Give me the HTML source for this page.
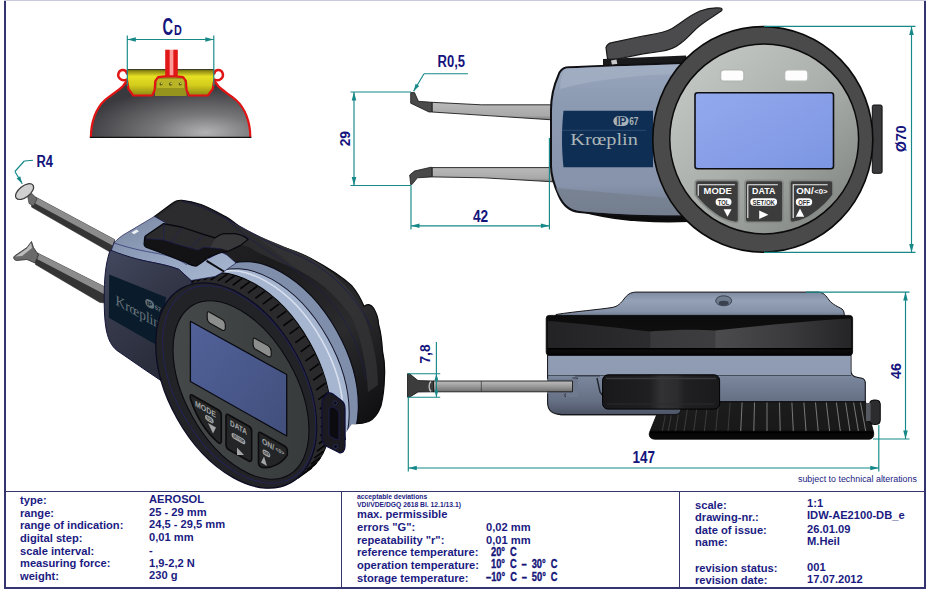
<!DOCTYPE html>
<html lang="en">
<head>
<meta charset="utf-8">
<title>Kroeplin IDW-AE2100-DB_e</title>
<style>
html,body{margin:0;padding:0;background:#fff;}
body{width:931px;height:594px;position:relative;overflow:hidden;font-family:"Liberation Sans",sans-serif;}
#sheet{position:absolute;left:0;top:0;width:931px;height:594px;background:#fff;}
.ln{position:absolute;background:#34346e;}
.t{position:absolute;white-space:nowrap;color:#1b1b82;font-weight:bold;font-size:11.15px;line-height:12px;letter-spacing:0;}
.s{position:absolute;white-space:nowrap;color:#1b1b82;font-weight:bold;font-size:6.75px;line-height:7px;}
.n{position:absolute;white-space:nowrap;color:#1b1b82;font-weight:normal;font-size:8.9px;line-height:10px;}
.iso{position:absolute;white-space:nowrap;color:#14147a;font-weight:bold;font-size:12px;line-height:12px;transform-origin:0 50%;transform:scaleX(.775);word-spacing:3px;-webkit-text-stroke:0.35px #14147a;}
svg{position:absolute;left:0;top:0;}
</style>
</head>
<body>
<div id="sheet">

<!-- DRAWINGS -->
<svg id="drw" width="931" height="594" viewBox="0 0 931 594">
<defs>
<radialGradient id="gDome" cx="0.72" cy="0.92" r="0.8" gradientUnits="objectBoundingBox">
<stop offset="0" stop-color="#b2b2b5"/><stop offset="0.4" stop-color="#77777a"/><stop offset="1" stop-color="#3a3a3e"/>
</radialGradient>
<linearGradient id="gCup" x1="0" y1="0" x2="0" y2="1">
<stop offset="0" stop-color="#7d7a10"/><stop offset="0.25" stop-color="#e6e024"/><stop offset="0.6" stop-color="#d2cc1c"/><stop offset="1" stop-color="#8c8814"/>
</linearGradient>
<linearGradient id="gStem" x1="0" y1="0" x2="1" y2="0">
<stop offset="0" stop-color="#e01818"/><stop offset="0.3" stop-color="#e01818"/><stop offset="0.42" stop-color="#ff9a9a"/><stop offset="0.58" stop-color="#ff9a9a"/><stop offset="0.7" stop-color="#e01818"/><stop offset="1" stop-color="#e01818"/>
</linearGradient>
<linearGradient id="gFace" x1="0.15" y1="0.1" x2="0.85" y2="0.9">
<stop offset="0" stop-color="#c2c6c2"/><stop offset="0.5" stop-color="#abafab"/><stop offset="1" stop-color="#858986"/>
</linearGradient>
<linearGradient id="gLcd" x1="0" y1="0" x2="1" y2="1">
<stop offset="0" stop-color="#93a9ee"/><stop offset="1" stop-color="#7d96e2"/>
</linearGradient>
<linearGradient id="gBody" x1="0" y1="0" x2="0" y2="1">
<stop offset="0" stop-color="#9aa7bd"/><stop offset="0.25" stop-color="#8c9ab2"/><stop offset="0.8" stop-color="#8793aa"/><stop offset="1" stop-color="#6d788c"/>
</linearGradient>
<linearGradient id="gArm" x1="0" y1="0" x2="0" y2="1">
<stop offset="0" stop-color="#b9b9b9"/><stop offset="0.75" stop-color="#a9a9a9"/><stop offset="1" stop-color="#7a7a7a"/>
</linearGradient>
<marker id="ah" viewBox="0 0 10 6" refX="10" refY="3" markerWidth="10" markerHeight="6" orient="auto-start-reverse" markerUnits="userSpaceOnUse">
<path d="M0,0.6 L10,3 L0,5.4 Z" fill="#178a8a"/>
</marker>
<linearGradient id="gCap" x1="0" y1="0" x2="0" y2="1">
<stop offset="0" stop-color="#7e8ba0"/><stop offset="0.35" stop-color="#94a1b7"/><stop offset="0.8" stop-color="#8592a8"/><stop offset="1" stop-color="#6c7789"/>
</linearGradient>
<linearGradient id="gBand" x1="0" y1="0" x2="0" y2="1">
<stop offset="0" stop-color="#0c0c0d"/><stop offset="0.8" stop-color="#101011"/><stop offset="1" stop-color="#050506"/>
</linearGradient>
<linearGradient id="gLow" gradientUnits="userSpaceOnUse" x1="0" y1="355" x2="0" y2="416">
<stop offset="0" stop-color="#8d9ab1"/><stop offset="0.32" stop-color="#8995ac"/><stop offset="0.36" stop-color="#7a869c"/><stop offset="0.75" stop-color="#667085"/><stop offset="1" stop-color="#495162"/>
</linearGradient>
<linearGradient id="gLever" x1="0" y1="0" x2="1" y2="0">
<stop offset="0" stop-color="#19191b"/><stop offset="0.4" stop-color="#1f1f21"/><stop offset="0.5" stop-color="#323234"/><stop offset="0.64" stop-color="#2c2c2e"/><stop offset="0.7" stop-color="#202022"/><stop offset="1" stop-color="#1a1a1c"/>
</linearGradient>
<linearGradient id="gWheel" x1="0" y1="0" x2="0" y2="1">
<stop offset="0" stop-color="#1c1c1d"/><stop offset="0.75" stop-color="#19191a"/><stop offset="0.8" stop-color="#050505"/><stop offset="1" stop-color="#0a0a0a"/>
</linearGradient>
<linearGradient id="gArmS" x1="0" y1="0" x2="0" y2="1">
<stop offset="0" stop-color="#bdbdbd"/><stop offset="0.5" stop-color="#9a9a9a"/><stop offset="1" stop-color="#6e6e6e"/>
</linearGradient>
<linearGradient id="gIsoBack" x1="0" y1="0" x2="1" y2="1">
<stop offset="0" stop-color="#2a2a2d"/><stop offset="0.4" stop-color="#1b1b1d"/><stop offset="0.7" stop-color="#2b2b2e"/><stop offset="1" stop-color="#0c0c0d"/>
</linearGradient>
<linearGradient id="gIsoTop" x1="0" y1="0" x2="1" y2="1">
<stop offset="0" stop-color="#7885a0"/><stop offset="0.5" stop-color="#93a3bf"/><stop offset="1" stop-color="#a9b9d3"/>
</linearGradient>
<linearGradient id="gIsoSide" x1="0" y1="0" x2="0.6" y2="1">
<stop offset="0" stop-color="#434960"/><stop offset="0.45" stop-color="#343849"/><stop offset="1" stop-color="#262936"/>
</linearGradient>
<linearGradient id="gIsoBand" x1="0" y1="0" x2="1" y2="0.6">
<stop offset="0" stop-color="#7d8ba6"/><stop offset="0.45" stop-color="#aab9d2"/><stop offset="1" stop-color="#8796b1"/>
</linearGradient>
<linearGradient id="gIsoLcd" x1="0" y1="0" x2="1" y2="1">
<stop offset="0" stop-color="#51629a"/><stop offset="1" stop-color="#424f7c"/>
</linearGradient>
<linearGradient id="gIsoFace" x1="0" y1="0" x2="1" y2="1">
<stop offset="0" stop-color="#474b4b"/><stop offset="1" stop-color="#353838"/>
</linearGradient>
<linearGradient id="gIsoArm" x1="0" y1="0" x2="0.35" y2="1">
<stop offset="0" stop-color="#9a9a9a"/><stop offset="0.45" stop-color="#7a7a7a"/><stop offset="0.55" stop-color="#3a3a3a"/><stop offset="1" stop-color="#2a2a2a"/>
</linearGradient>
<linearGradient id="gBandH" gradientUnits="userSpaceOnUse" x1="548" y1="0" x2="851" y2="0">
<stop offset="0" stop-color="#232325"/><stop offset="0.335" stop-color="#2c2c2e"/><stop offset="0.34" stop-color="#39393b"/><stop offset="0.55" stop-color="#3d3d3f"/><stop offset="0.555" stop-color="#4b4b4d"/><stop offset="0.8" stop-color="#3a3a3c"/><stop offset="1" stop-color="#252527"/>
</linearGradient>
</defs>
<!--AEROSOL-->
<g id="aerosol">
<path d="M90.8,137.1 C90.8,122 96,108 105,100 C112,94 120,89.5 123,86 L127,80 L214.2,80 L218.2,86 C221,89.5 229,94 236,100 C245,108 250.4,122 250.4,137.1 Z" fill="url(#gDome)"/>
<rect x="155" y="77" width="31.5" height="19" fill="#96941c"/>
<rect x="157" y="79" width="27" height="9" fill="#b9b526"/>
<path d="M127,70 L214.2,70 L214.2,81 L212.6,89.2 L207.9,95.5 L189,95.5 L186.6,90.3 L185.9,81 L183.1,77.2 L176,76.4 L165.2,76.4 L158.1,77.2 L155.3,81 L154.6,90.3 L152.2,95.5 L133.3,95.5 L128.6,89.2 L127,81 Z" fill="url(#gCup)"/>
<path d="M127,69.6 L214.2,69.6" stroke="#2a2a10" stroke-width="1" fill="none"/>
<circle cx="161" cy="84" r="1.5" fill="#5e5c10"/><circle cx="170.6" cy="84" r="1.7" fill="#5e5c10"/><circle cx="180.2" cy="84" r="1.5" fill="#5e5c10"/>
<circle cx="161.5" cy="83.6" r="0.7" fill="#e8e470"/><circle cx="171.1" cy="83.6" r="0.8" fill="#e8e470"/><circle cx="180.7" cy="83.6" r="0.7" fill="#e8e470"/>
<rect x="165.2" y="49.7" width="12.6" height="27" fill="url(#gStem)"/>
<path d="M90.9,137.1 C90.9,122 96,108 105,100 C112,94 120,89.5 123,86 L127,80.5 L128.6,89.2 L133.3,95.5 L152.2,95.5 L154.6,90.3 L155.3,81 L158.1,77.2 L165.2,76.4 L176,76.4 L183.1,77.2 L185.9,81 L186.6,90.3 L189,95.5 L207.9,95.5 L212.6,89.2 L214.2,80.5 L218.2,86 C221,89.5 229,94 236,100 C245,108 250.3,122 250.3,137.1" fill="none" stroke="#e01414" stroke-width="2.2" stroke-linejoin="round"/>
<path d="M126.5,79.5 C121,82 117,77 118.6,73 C120.5,68.5 126.5,69.5 126.8,73.5" fill="none" stroke="#e01414" stroke-width="2.4" stroke-linecap="round"/>
<path d="M214.7,79.5 C220.2,82 224.2,77 222.6,73 C220.7,68.5 214.7,69.5 214.4,73.5" fill="none" stroke="#e01414" stroke-width="2.4" stroke-linecap="round"/>
<path d="M89.8,137.4 L251.4,137.4" stroke="#111" stroke-width="1.3"/>
</g>
<!--FRONT-->
<g id="front">
<!-- jaw arms -->
<path d="M432,102.3 L481.4,104.8 L553,104.8 L553,119.9 L432,112 Z" fill="url(#gArm)" stroke="#1c1c1c" stroke-width="0.9"/>
<path d="M410.7,92.6 L414.5,92.6 L418.4,101.3 L432,102.3 L432,112 L429,112 L410.7,103.2 Z" fill="#4a4a4a" stroke="#161616" stroke-width="0.8"/>
<path d="M432,167.6 L553,167.6 L553,181.8 L483.3,177.8 L432,176.9 Z" fill="url(#gArm)" stroke="#1c1c1c" stroke-width="0.9"/>
<path d="M411.9,184.6 L410.7,184.6 L409.7,175 L414.5,171 L431,167.2 L432,167.6 L432,176.9 L417.4,177.8 Z" fill="#4a4a4a" stroke="#161616" stroke-width="0.8"/>
<!-- lever -->
<path d="M606,47.5 C607,44.5 609,43 612,42.6 L643,36 C655,34 664,33 672,28.5 C681,23 690,15 700,11 C708,8 716,7.5 720.5,8 C722,8.3 722.6,9.5 721.5,10.8 C714,16 707,20 700,25.5 C693,31 688,38 681,43 C675,48 669,50.5 660,51.5 L643,53.8 L611,60.3 C609,60.5 607.6,59.5 607.3,57.5 Z" fill="#4b4b4d" stroke="#1a1a1a" stroke-width="1.2"/>
<!-- black rear -->
<path d="M603,59 L686,55.5 L690,68 L603,70 Z" fill="#19191b"/>
<path d="M611,60.5 L616.5,59.6 L617.3,64 L612,65 Z" fill="#c8c8c8"/>
<path d="M572,209 C600,219 640,224 690,222 L690,210 L574,204 Z" fill="#0c0c0c"/>
<!-- body -->
<path d="M566,67.5 C590,66 640,64.5 690,63 L690,216 C650,217 610,215 579,212 C570,211 563,205 559,196 C554,185 551,176 551,166 L551,110 C551,98 554,85 558.5,75 C560,70.5 562.5,68.2 566,67.5 Z" fill="url(#gBody)" stroke="#101014" stroke-width="2"/>
<path d="M566,68.5 C590,67 640,65.5 690,64 L690,74 C650,74 600,78 560,89 C560.5,80 562,71 566,68.5 Z" fill="#a4b0c4" opacity="0.7"/>
<path d="M556,188 L690,200 L690,215 C650,216 610,214 580,211 C568,209 560,199 556,188 Z" fill="#75808f" opacity="0.8"/>
<path d="M563.5,110.8 L653,110.8 L653,167.2 L563.5,167.2 C561.5,150 561.5,128 563.5,110.8 Z" fill="#0e2e54"/>
<path d="M562,130.3 L646,130.3" stroke="#3b5878" stroke-width="0.7"/>

<text x="570.3" y="145.2" font-family="'Liberation Serif',serif" font-size="16.5" fill="#aab4b6" textLength="67.5" lengthAdjust="spacingAndGlyphs">Krœplin</text>
<rect x="613.3" y="116.3" width="15.4" height="9.6" rx="4.8" fill="#aab2b6"/>
<text x="616.2" y="124.6" font-family="'Liberation Sans',sans-serif" font-size="10" font-weight="bold" fill="#0f3058" textLength="10" lengthAdjust="spacingAndGlyphs">IP</text>
<text x="629.2" y="125.3" font-family="'Liberation Sans',sans-serif" font-size="11" font-weight="bold" fill="#aab2b6" textLength="9.3" lengthAdjust="spacingAndGlyphs">67</text>
<!-- side knob -->
<rect x="872.3" y="105" width="9.8" height="68.3" rx="1.5" fill="#3a3a3c" stroke="#111" stroke-width="1"/>
<!-- dial -->
<ellipse cx="762.8" cy="139.4" rx="110" ry="112.8" fill="#4a4a4b" stroke="#0a0a0a" stroke-width="1.6"/>
<ellipse cx="764.2" cy="139" rx="94.4" ry="94.9" fill="url(#gFace)" stroke="#0a0a0a" stroke-width="1.5"/>
<!-- leds -->
<rect x="720.5" y="69.8" width="23.5" height="11.6" rx="3.5" fill="#fdfdfd" stroke="#b4b8b4" stroke-width="1.6"/>
<rect x="784.5" y="69.8" width="23.5" height="11.6" rx="3.5" fill="#fdfdfd" stroke="#b4b8b4" stroke-width="1.6"/>
<!-- lcd -->
<rect x="695" y="92.8" width="138.5" height="76" rx="2.5" fill="url(#gLcd)" stroke="#0d0d12" stroke-width="1.6"/>
<!-- buttons -->
<g font-family="'Liberation Sans',sans-serif" font-weight="bold" fill="#fff">
<path d="M698,180.3 L736,180.3 C737.7,180.3 738.6,181.3 738.6,183 L738.6,219.8 C738.6,222 737.3,222.8 734.8,222.4 C727,221 720,218 715,214 C708,209 701,203 695.3,195 L695.3,183 C695.3,181.3 696.3,180.3 698,180.3 Z" fill="#3c3c3d" stroke="#878b87" stroke-width="1.7" stroke-linejoin="round"/>
<path d="M698.2,195.8 L698.2,184.7 L734.8,184.7" fill="none" stroke="#f0f0f0" stroke-width="1.1"/>
<text x="703.6" y="194.1" font-size="9.6" textLength="28.2" lengthAdjust="spacingAndGlyphs">MODE</text>
<rect x="715.6" y="198.3" width="15.9" height="7.4" rx="3.7" fill="#fff"/>
<text x="717.8" y="204.5" font-size="6.3" fill="#333" textLength="11.5" lengthAdjust="spacingAndGlyphs">TOL</text>
<path d="M723.6,209.2 L731.5,209.2 L727.5,216.8 Z"/>
<rect x="745.1" y="180.3" width="37.9" height="42.1" rx="2.8" fill="#3c3c3d" stroke="#878b87" stroke-width="1.7"/>
<path d="M747.8,218 L747.8,184.7 L777.8,184.7" fill="none" stroke="#f0f0f0" stroke-width="1.1"/>
<text x="752" y="194.1" font-size="9.6" textLength="23.3" lengthAdjust="spacingAndGlyphs">DATA</text>
<rect x="750.3" y="198.3" width="26.8" height="7.4" rx="3.7" fill="#fff"/>
<text x="752.4" y="204.5" font-size="6.3" fill="#333" textLength="22.6" lengthAdjust="spacingAndGlyphs">SET/OK</text>
<path d="M759.2,210.4 L759.2,219 L768.4,214.7 Z"/>
<path d="M792.5,180.3 L830.4,180.3 C832.1,180.3 833.1,181.3 833.1,183 L833.1,195 C827.4,203 820.4,209 813.4,214 C808.4,218 801.4,221 793.6,222.4 C791.1,222.8 789.8,222 789.8,219.8 L789.8,183 C789.8,181.3 790.8,180.3 792.5,180.3 Z" fill="#3c3c3d" stroke="#878b87" stroke-width="1.7" stroke-linejoin="round"/>
<path d="M793.2,218 L793.2,184.7 L827.6,184.7" fill="none" stroke="#f0f0f0" stroke-width="1.1"/>
<text x="796.3" y="194.1" font-size="9.6" textLength="17.3" lengthAdjust="spacingAndGlyphs">ON/</text>
<text x="814.2" y="193.8" font-size="7" textLength="13.4" lengthAdjust="spacingAndGlyphs">&lt;0&gt;</text>
<rect x="795.8" y="198.3" width="16.4" height="7.4" rx="3.7" fill="#fff"/>
<text x="798.2" y="204.5" font-size="6.3" fill="#333" textLength="11.6" lengthAdjust="spacingAndGlyphs">OFF</text>
<path d="M795.8,216.8 L804.2,216.8 L800,208.6 Z"/>
</g>
</g>
<!--ISO-->
<g id="iso">
<clipPath id="cpBand"><path d="M150,150 L420,150 L420,424 L352,424 L346,432 L346,440 L150,440 Z"/></clipPath>
<!-- arms -->
<path d="M32.5,199.5 L35.5,197 L114.5,239.5 L116,252 L110,252 L31.5,207 Z" fill="#343434" stroke="#2a2a2a" stroke-width="0.6"/>
<path d="M35.5,197 L114.5,239.5 L112.5,245.5 L33,202.3 Z" fill="#8c8c8c"/>
<path d="M27.5,195.5 L32,193.5 L37,199 L33.5,206 L29,203.5 Z" fill="#6c6c6c" stroke="#2e2e2e" stroke-width="0.6"/>
<ellipse cx="24.6" cy="191.6" rx="10.6" ry="5.6" transform="rotate(-38 24.6 191.6)" fill="#d0d0d0" stroke="#3a3a3a" stroke-width="1.2"/>
<path d="M34.5,255 L37.5,253 L106,287.5 L107,303 L100,302.5 L35.5,264.5 Z" fill="#343434" stroke="#2a2a2a" stroke-width="0.6"/>
<path d="M37.5,253 L106,287.5 L104,294 L35.5,258.3 Z" fill="#8c8c8c"/>
<path d="M14.5,256 L27,247.5 L31.5,241.5 L33.5,247.5 L38.5,255 L35,263 L27,259.5 L16.5,260.5 C13.5,260 13,257.5 14.5,256 Z" fill="#6a6a6a" stroke="#2a2a2a" stroke-width="0.8"/>
<path d="M15.5,256.5 L27,248.5 L31,243 L32,248 L22,256 Z" fill="#bdbdbd"/>
<!-- black back casing -->
<path d="M154.5,216.4 L172,203.5 C175,201 178,200 182,200.3 C190,201 196,202.8 201,204.5 C210,208 218,212.5 225.5,216.5 C234,221 241,229 249.5,234 C260,240 270,243.5 280,246.5 C291,249.5 301,253 311,258.5 C325,266 339,274 351.5,285.4 C357,292 361,299 364.1,306.5 C367,303.5 371,304 373.5,308 C377,314 378.5,319 378.5,324 C381,333 382,342 382.5,351 C384.5,360 385,368 384.5,376.3 C384.3,386 383.5,396 381,405.8 C378,414 374,419 368.7,421.5 C362,424 356,424 351,423.4 L300,300 L215,262 Z" fill="url(#gIsoBack)" stroke="#0a0a0c" stroke-width="1.2"/>
<path d="M158,217 L179,202 C200,205 225,218 249,231 C270,242 292,249 310,258 C335,272 352,290 362,310 L352,318 C340,300 325,284 300,271 C280,262 262,256 249,247 L215,238 L165,224 Z" fill="#2c2c2f"/>
<path d="M249,231 C270,242 292,249 310,258 C335,272 352,290 362,310 C372,335 378,360 378,385 L368,392 C366,360 360,335 352,318 C340,300 325,284 300,271 Z" fill="#343437" opacity="0.75"/>
<path d="M182,201 C215,207 250,235 285,250 C320,262 355,290 372,330" fill="none" stroke="#1c1c4a" stroke-width="0.8"/>
<path d="M225,217 C245,240 290,262 320,290 C345,315 360,345 366,380" fill="none" stroke="#1c1c4a" stroke-width="0.7"/>
<!-- band rings -->
<g clip-path="url(#cpBand)">
<ellipse cx="277.9" cy="364.2" rx="67.7" ry="111.5" transform="rotate(-29.4 277.9 364.2)" fill="#7f8eab" stroke="#0d0d18" stroke-width="1.2"/>
<ellipse cx="268.7" cy="371.3" rx="67.7" ry="111.5" transform="rotate(-29.4 268.7 371.3)" fill="#a6b6d0" stroke="#15152a" stroke-width="1"/>
<ellipse cx="262.7" cy="373.3" rx="67.7" ry="111.5" transform="rotate(-29.4 262.7 373.3)" fill="none" stroke="#e8eef8" stroke-width="1.6" opacity="0.75"/>
</g>
<!-- knurled ring -->
<ellipse cx="250.5" cy="375.3" rx="67.7" ry="111.5" transform="rotate(-29.4 250.5 375.3)" fill="#2a2a2d" stroke="#000" stroke-width="1"/>
<path d="M167.6,305.0 L176.9,298.2 M171.1,299.0 L180.4,292.2 M175.3,293.8 L184.6,287.0 M180.0,289.3 L189.3,282.5 M185.3,285.7 L194.6,278.9 M191.0,282.9 L200.3,276.1 M197.2,281.1 L206.5,274.3 M203.8,280.1 L213.1,273.3 M210.7,280.0 L220.0,273.2 M217.9,280.9 L227.2,274.1 M225.2,282.6 L234.5,275.8 M232.7,285.2 L242.0,278.4 M240.3,288.7 L249.6,281.9 M247.9,293.1 L257.2,286.3 M255.4,298.2 L264.7,291.4 M262.8,304.1 L272.1,297.3 M269.9,310.7 L279.2,303.9 M276.9,317.9 L286.2,311.1 M283.4,325.7 L292.7,318.9 M289.6,333.9 L298.9,327.1 M295.4,342.7 L304.7,335.9 M300.7,351.7 L310.0,344.9 M305.4,361.1 L314.7,354.3 M309.6,370.6 L318.9,363.8 M313.2,380.3 L322.5,373.5 M316.1,390.0 L325.4,383.2 M318.3,399.6 L327.6,392.8 M319.9,409.0 L329.2,402.2 M320.7,418.2 L330.0,411.4 M320.8,427.1 L330.1,420.3 M320.2,435.7 L329.5,428.9 M318.9,443.7 L328.2,436.9 M317.0,451.2 L326.3,444.4 M314.3,458.1 L323.6,451.3 M311.0,464.3 L320.3,457.5 M307.0,469.8 L316.3,463.0 M302.5,474.5 L311.8,467.7 M297.4,478.4 L306.7,471.6 M291.8,481.4 L301.1,474.6 M285.7,483.6 L295.0,476.8" stroke="#060607" stroke-width="1.7" fill="none"/>
<!-- connector -->
<path d="M325,396 C327,392.5 330,392.5 333,394 L342,401 C344.5,403 345,405.5 345,409 L345,446 C345,451 342.5,453.5 339,452.5 L327,446.5 C323.5,444.5 322,442 322,438 L322,404 C322,400.5 323,398 325,396 Z" fill="#1a1a20" stroke="#101038" stroke-width="1.3"/>
<path d="M329.5,408 C331,406.5 333,406.5 335,408 L337.5,410 C338.6,411 339,412.5 339,414.5 L339,437 C339,439.5 337.8,440.2 336,439.5 L331,437 C329.5,436 329,435 329,433 L329,410.5 C329,409.3 329.2,408.5 329.5,408 Z" fill="#0c0c10" stroke="#22225c" stroke-width="0.8"/>
<circle cx="335" cy="403" r="2.1" fill="#0b0c18" stroke="#32366a" stroke-width="0.7"/><circle cx="335.5" cy="446.5" r="2.1" fill="#0b0c18" stroke="#32366a" stroke-width="0.7"/>
<!-- top grey-blue surface -->
<path d="M154.5,216.4 L126.5,233 C121,236 117,239.5 114,243 L110,254 C130,258 145,261 156.7,263.3 C165,265 173,267 178.9,269.4 L191,280.5 L215,276.5 L224,271.5 L236,263 L227,255 L221,252 L196,265 L148.5,246 L148.5,235.6 L166.7,223.4 Z" fill="url(#gIsoTop)" stroke="#1a1a50" stroke-width="0.7"/>
<path d="M206.6,260.9 L224,271.5" stroke="#0a0a10" stroke-width="2"/>
<path d="M131.5,232.5 L136.5,229.6 L139,231.2 L134,234.2 Z" fill="#eef0f4"/>
<path d="M114,243 C135,250 150,252 160,254 C170,256 178,259 186.9,264.8" fill="none" stroke="#1a1a60" stroke-width="0.6"/>
<!-- left side of body -->
<path d="M110.2,250 C106,262 104.6,275 104.3,290 C104,305 104.3,320 106.5,331 C108.5,340 111.5,346 117,350.5 L146,370.5 L172,388 L196,300 L191,280.5 L178.9,269.4 C173,267 165,265 156.7,263.3 C145,261 130,258 110.2,250 Z" fill="url(#gIsoSide)" stroke="#15153a" stroke-width="1"/>
<path d="M109.2,274.4 L166,297.3 L160,347 L108.8,317.8 Z" fill="#0a1c2c"/>
<g transform="matrix(0.89,0.49,0,1,115.5,304.5)">
<text x="0" y="0" font-family="'Liberation Serif',serif" font-size="14.5" fill="#66737a" textLength="50" lengthAdjust="spacingAndGlyphs">Krœplin</text>
<rect x="33.5" y="-23.5" width="10" height="8" rx="4" fill="#66737a"/>
<text x="35" y="-17" font-family="'Liberation Sans',sans-serif" font-size="6.5" font-weight="bold" fill="#0a1c2c">IP</text>
<text x="44" y="-17" font-family="'Liberation Sans',sans-serif" font-size="6.5" font-weight="bold" fill="#66737a">67</text>
</g>
<!-- bezel -->
<ellipse cx="236.2" cy="385.5" rx="67.7" ry="111.5" transform="rotate(-29.4 236.2 385.5)" fill="#222327" stroke="#0c0c22" stroke-width="1.3"/>
<ellipse cx="239.2" cy="384.5" rx="63.7" ry="107.5" transform="rotate(-29.4 239.2 384.5)" fill="none" stroke="#23235a" stroke-width="0.9"/>
<ellipse cx="241" cy="390" rx="55.4" ry="97.5" transform="rotate(-29.4 241 390)" fill="url(#gIsoFace)" stroke="#0a0a10" stroke-width="1.1"/>
<!-- lcd -->
<path d="M190.4,321.3 L286.7,374.5 L286.7,436 L190.4,381.5 Z" fill="url(#gIsoLcd)" stroke="#0a0a12" stroke-width="1.3" stroke-linejoin="round"/>
<!-- leds -->
<path d="M209.2,312 L222,319.2 C224.5,320.8 225.3,322.5 225.3,325 L225.3,328 C225.3,330.5 224,331 222,330 L210,323.2 C207.8,321.8 207.2,320.5 207.2,318 L207.2,314 C207.2,311.8 207.8,311.3 209.2,312 Z" fill="#8c8e8e" stroke="#111" stroke-width="1.1"/>
<path d="M255.1,338.4 L268,345.6 C270.5,347.2 271.2,348.9 271.2,351.4 L271.2,354.4 C271.2,356.9 270,357.4 268,356.4 L256,349.6 C253.8,348.2 253.1,346.9 253.1,344.4 L253.1,340.4 C253.1,338.2 253.8,337.7 255.1,338.4 Z" fill="#8c8e8e" stroke="#111" stroke-width="1.1"/>
<!-- buttons -->
<g font-family="'Liberation Sans',sans-serif" font-weight="bold">
<path d="M192,395 L218.5,410 C220.5,411.3 221.3,412.5 221.3,415 L221.3,441 C221.3,443.5 219.5,444 218,442.5 C206,432 196,416 190.5,399 C189.8,396 190.3,394.2 192,395 Z" fill="#232527" stroke="#0c0c0e" stroke-width="1.6"/>
<path d="M228,414.5 L249,426.2 C251,427.4 251.7,428.7 251.7,431.2 L251.7,458.6 C251.7,461.4 250.3,461.9 248.3,460.8 L228.5,449.5 C226.6,448.3 226,447 226,444.5 L226,416.5 C226,414.3 226.6,413.8 228,414.5 Z" fill="#232527" stroke="#0c0c0e" stroke-width="1.6"/>
<path d="M260.5,432.5 L284.5,446 C286.5,447.2 287.3,448.5 287.3,451 L287.3,455 C282,463 273,468.5 262.5,467.5 C260,467 258.5,465.5 258.5,462.5 L258.5,434.5 C258.5,432.3 259.2,431.8 260.5,432.5 Z" fill="#232527" stroke="#0c0c0e" stroke-width="1.6"/>
<g fill="#a3a7a7">
<text transform="matrix(0.87,0.49,0,1,195,406)" font-size="8.2" textLength="24" lengthAdjust="spacingAndGlyphs">MODE</text>
<text transform="matrix(0.87,0.49,0,1,230,425.5)" font-size="8.2" textLength="19.5" lengthAdjust="spacingAndGlyphs">DATA</text>
<text transform="matrix(0.87,0.49,0,1,262,443.5)" font-size="8.2" textLength="14" lengthAdjust="spacingAndGlyphs">ON/</text>
<text transform="matrix(0.87,0.49,0,1,275.5,450.6)" font-size="5.6" textLength="10" lengthAdjust="spacingAndGlyphs">&lt;0&gt;</text>
<path d="M208,423 L216,427.5 L213,433.5 Z"/>
<path d="M237,447.5 L237,455 L244,455 Z"/>
<path d="M261,462.5 L267,466 L264,456.5 Z"/>
<rect x="0" y="0" width="10" height="5.4" rx="2.7" transform="matrix(0.87,0.49,0,1,205,414)"/>
<rect x="0" y="0" width="16" height="5.4" rx="2.7" transform="matrix(0.87,0.49,0,1,231.5,432)"/>
<rect x="0" y="0" width="9" height="5.4" rx="2.7" transform="matrix(0.87,0.49,0,1,262.5,448.5)"/>
</g>
<g fill="#232527">
<text transform="matrix(0.87,0.49,0,1,206.3,418.9)" font-size="4.4" textLength="7.5" lengthAdjust="spacingAndGlyphs">TOL</text>
<text transform="matrix(0.87,0.49,0,1,233,436.9)" font-size="4.4" textLength="13" lengthAdjust="spacingAndGlyphs">SET/OK</text>
<text transform="matrix(0.87,0.49,0,1,263.6,453.4)" font-size="4.4" textLength="7" lengthAdjust="spacingAndGlyphs">OFF</text>
</g>
</g>
<!-- lever on top -->
<path d="M145.7,235.8 L163.6,223.6 L182.2,227.2 L203.7,234.4 L215.2,237.9 C218,236 221,234 223.8,233.7 L235.2,233.7 C240,234.5 245,236.5 248.1,239.4 L241,245.1 L228,251.5 C222,252 218,253 209.4,256.6 C206,259 203,262 196.6,265.9 C193,266.8 189,264 185.1,262.3 L163.6,253.7 L146,247.2 C144.5,246.5 144,245.5 144.1,244 L144.6,238 C144.7,237 145,236.3 145.7,235.8 Z" fill="#131315" stroke="#08080f" stroke-width="1.2" stroke-linejoin="round"/>
<path d="M146.2,236.2 L163.8,224.4 L182.2,228 L203.7,235.2 L215.2,238.7 C218,236.8 221,234.8 223.8,234.5 L235.2,234.5 C240,235.3 244,237 246.8,239.5 L240.5,244.5 L228,250.6 L220.9,248.6 L203.7,247.2 L198,250 L182.2,245.7 L163.6,240 L146,238.6 Z" fill="#2b2b2e"/>
<path d="M215.2,238.7 C218,236.8 221,234.8 223.8,234.5 L235.2,234.5 C240,235.3 244,237 246.8,239.5 L240.5,244.5 L228,250.6 L220.9,248.6 L210,247.5 Z" fill="#38383b"/>
<path d="M163.8,224.4 L163.6,240 M182.2,228 L171,242.5 M203.7,235.2 L190,248 M146.2,236.2 L146,238.6 L163.6,240 L182.2,245.7 L198,250 L203.7,247.2 L220.9,248.6" fill="none" stroke="#1d1d5a" stroke-width="0.6"/>
</g>
<!--SIDE-->
<g id="side">
<!-- lower body -->
<path d="M547.6,355 L851,355 L851,371 C851,375 853,376.5 857,377.2 L862,378.2 C864.5,379 865.3,380.5 865.3,383 L865.3,402 L660,402 L660,414.6 L562,414.6 C553,414.6 547.6,410.5 547.6,402.5 Z" fill="url(#gLow)" stroke="#15151a" stroke-width="1.1"/>
<path d="M548,375.5 L851,375.5" stroke="#3d4554" stroke-width="0.9"/>
<path d="M548,356 L851,356 L851,375 L548,375 Z" fill="#93a0b7" opacity="0.55"/>
<!-- slot detail -->
<path d="M572.5,378 L577.5,378 L577.5,392.5 L565,393.5 L565,396.5 L572.5,396.5" fill="none" stroke="#2a2e38" stroke-width="0.9"/>
<path d="M575,376 L600,376" stroke="#2a2e38" stroke-width="0.8"/>
<path d="M597,378 L600,392 L603,396" stroke="#20242c" stroke-width="1.4" fill="none"/>
<!-- jaw -->
<path d="M547,379 L578,379 L578,397 L566,397 L566,393.5 L547,393.5 Z" fill="#6f7a8e"/>
<path d="M433,381 L572.5,381 L572.5,391.8 L433,391.8 Z" fill="url(#gArmS)" stroke="#1a1a1a" stroke-width="0.9"/>
<path d="M481.3,381 L481.3,391.8" stroke="#333" stroke-width="0.7"/>
<path d="M407.5,373.7 L409.5,373.7 L418,380.6 L433.5,381 L433.5,391.8 L418,392 L409.5,397.2 L407.5,397.2 Z" fill="#3c3c3d" stroke="#141414" stroke-width="0.8"/>
<path d="M431,381.4 C428.5,383.5 428.5,389.5 431,391.4" fill="none" stroke="#bbb" stroke-width="1.4"/>
<!-- top cap -->
<path d="M556,314.5 C575,311.5 600,309.5 612,307.5 C618,306.5 621,303 624,299 C627,295 630,292.3 636,292.1 L818,292.1 C824,292.3 826,296 829,300 C833,305 838,306.5 842,309 C844,310.5 844.3,313 844.3,316.5 L556,316.5 Z" fill="url(#gCap)" stroke="#15151a" stroke-width="1"/>
<ellipse cx="723.7" cy="300.8" rx="8" ry="5" fill="#6f7b8e" stroke="#333b48" stroke-width="0.9"/>
<ellipse cx="723.7" cy="303" rx="5" ry="2.2" fill="#3a4250"/>
<!-- black band -->
<rect x="546.2" y="315.4" width="306.4" height="39.8" rx="3" fill="url(#gBand)" stroke="#000" stroke-width="0.8"/>
<path d="M547,348.8 L852,348.8" stroke="#000" stroke-width="1.6"/>
<path d="M548,321 C580,323.5 620,328 650,331.5 C680,329 700,329.5 715,330.5 C760,326 810,320.5 851,318.5 L851,348 L548,348 Z" fill="url(#gBandH)"/>
<!-- wheel -->
<path d="M662,401.7 L865.5,401.7 L873.5,432 C874.2,435 873.5,439.2 869,439.2 L655,439.2 C650,439.2 648.6,435.5 649.5,432.5 Z" fill="url(#gWheel)" stroke="#000" stroke-width="0.8"/>
<path d="M667.8,402.5 L662.3,431 M673.5,402.5 L668.3,431 M680.4,402.5 L675.6,431 M688.4,402.5 L684.1,431 M697.6,402.5 L693.7,431 M707.7,402.5 L704.4,431 M718.5,402.5 L715.8,431 M730.1,402.5 L728.0,431" stroke="#3f3f41" stroke-width="0.9" fill="none"/>
<path d="M742.1,402.5 L740.7,431 M754.5,402.5 L753.8,431 M767.0,402.5 L767.0,431 M779.5,402.5 L780.2,431 M791.9,402.5 L793.3,431 M803.9,402.5 L806.0,431 M815.5,402.5 L818.2,431 M826.3,402.5 L829.6,431 M836.4,402.5 L840.3,431 M845.6,402.5 L849.9,431 M853.6,402.5 L858.4,431 M860.5,402.5 L865.7,431" stroke="#828284" stroke-width="0.9" fill="none"/>
<path d="M650,432.3 L873.6,432.3" stroke="#000" stroke-width="1.2"/>
<path d="M600,399 L681,399 L681,409 C681,412.5 679,414.6 675,414.6 L600,414.6 Z" fill="url(#gLow)"/>
<path d="M681,402 L681,409 C681,412.5 679,414.6 675,414.6 L560,414.6" fill="none" stroke="#15151a" stroke-width="1.1"/>
<!-- knob -->
<rect x="869.5" y="400" width="10.8" height="24.5" rx="4" fill="#2c2c2e" stroke="#000" stroke-width="0.9"/>
<rect x="866" y="403" width="4.6" height="18" fill="#55595f"/>
<!-- lever -->
<rect x="602.6" y="374.8" width="117" height="34.3" rx="5.5" fill="url(#gLever)" stroke="#000" stroke-width="1"/>
<path d="M606,378.5 L716,378.5" stroke="#3a3a3c" stroke-width="1.4"/>
<path d="M607,404 L714,404" stroke="#2a2a2c" stroke-width="1.2"/>
</g>
<!--DIMS-->
<g id="dims">
<path d="M127.3,39.5 L213.8,39.5 M127.3,35.5 L127.3,86.0 M213.8,35.5 L213.8,86.0 M354.0,92.0 L354.0,185.5 M350.5,92.0 L411.0,92.0 M350.5,185.5 L411.0,185.5 M411.0,225.8 L549.4,225.8 M411.0,185.5 L411.0,229.5 M549.4,138.0 L549.4,229.5 M424.0,73.7 L468.0,73.7 M424.0,73.7 L413.6,91.3 M33.0,160.3 L24.3,161.0 M24.3,161.0 L14.9,171.5 M14.9,171.5 L22.3,183.8 M911.5,26.4 L911.5,252.4 M764.0,26.4 L915.5,26.4 M764.0,252.4 L915.5,252.4 M436.4,342.0 L436.4,397.2 M407.5,373.7 L440.2,373.7 M407.5,397.2 L440.2,397.2 M408.3,468.0 L878.8,468.0 M408.3,397.2 L408.3,471.5 M878.8,425.0 L878.8,471.5 M905.5,292.1 L905.5,439.0 M806.0,292.1 L909.5,292.1 M873.0,439.0 L909.5,439.0" stroke="#178888" stroke-width="1.15" fill="none"/>
<path d="M127.3,39.5 L135.8,37.2 L135.8,41.8 Z M213.8,39.5 L205.3,41.8 L205.3,37.2 Z M354.0,92.0 L356.3,100.5 L351.7,100.5 Z M354.0,185.5 L351.7,177.0 L356.3,177.0 Z M411.0,225.8 L419.5,223.5 L419.5,228.1 Z M549.4,225.8 L540.9,228.1 L540.9,223.5 Z M413.6,91.3 L415.6,83.8 L419.2,85.9 Z M22.3,183.8 L16.6,178.5 L20.2,176.3 Z M911.5,26.4 L913.8,34.9 L909.2,34.9 Z M911.5,252.4 L909.2,243.9 L913.8,243.9 Z M436.4,373.7 L438.4,380.7 L434.4,380.7 Z M436.4,397.2 L434.4,390.2 L438.4,390.2 Z M408.3,468.0 L416.8,465.7 L416.8,470.3 Z M878.8,468.0 L870.3,470.3 L870.3,465.7 Z M905.5,292.1 L907.8,300.6 L903.2,300.6 Z M905.5,439.0 L903.2,430.5 L907.8,430.5 Z" fill="#178888"/>
<g font-family="'Liberation Sans',sans-serif" font-weight="bold" fill="#14147c">
<text x="162.6" y="34.8" font-size="23" textLength="10.6" lengthAdjust="spacingAndGlyphs">C</text>
<text x="174" y="34.8" font-size="14.2" textLength="7.8" lengthAdjust="spacingAndGlyphs">D</text>
<text x="36.5" y="166.6" font-size="16" textLength="16.5" lengthAdjust="spacingAndGlyphs">R4</text>
<text x="437.6" y="66.8" font-size="16" textLength="27.5" lengthAdjust="spacingAndGlyphs">R0,5</text>
<text transform="translate(350,146.3) rotate(-90)" font-size="15.5" textLength="15.3" lengthAdjust="spacingAndGlyphs">29</text>
<text x="473" y="221.8" font-size="16" textLength="15.2" lengthAdjust="spacingAndGlyphs">42</text>
<text transform="translate(906.3,152) rotate(-90)" font-size="15.5" textLength="26.5" lengthAdjust="spacingAndGlyphs">Ø70</text>
<text transform="translate(429.6,363.5) rotate(-90)" font-size="15.5" textLength="19" lengthAdjust="spacingAndGlyphs">7,8</text>
<text x="632.5" y="463.3" font-size="16" textLength="22.5" lengthAdjust="spacingAndGlyphs">147</text>
<text transform="translate(901.4,379) rotate(-90)" font-size="15.5" textLength="16" lengthAdjust="spacingAndGlyphs">46</text>
</g>
</g>
</svg>

<!-- frame -->
<div class="ln" style="left:4.2px;top:0;width:1.6px;height:588.5px;"></div>
<div class="ln" style="left:924.2px;top:0;width:1.6px;height:588.5px;"></div>
<div class="ln" style="left:4px;top:0;width:922px;height:1px;background:#c9c9dc;"></div>
<div class="ln" style="left:4px;top:491px;width:922px;height:1px;"></div>
<div class="ln" style="left:4px;top:587px;width:922px;height:1.5px;"></div>
<div class="ln" style="left:341px;top:491px;width:1px;height:97px;"></div>
<div class="ln" style="left:679px;top:491px;width:1px;height:97px;"></div>

<div class="n" style="left:798px;top:474px;">subject to technical alterations</div>

<!-- column 1 -->
<div class="t" style="left:20px;top:494.2px;">type:</div>
<div class="t" style="left:20px;top:506.6px;">range:</div>
<div class="t" style="left:20px;top:519px;">range of indication:</div>
<div class="t" style="left:20px;top:531.6px;">digital step:</div>
<div class="t" style="left:20px;top:545px;">scale interval:</div>
<div class="t" style="left:20px;top:556.8px;">measuring force:</div>
<div class="t" style="left:20px;top:570px;">weight:</div>
<div class="t" style="left:149px;top:493.2px;">AEROSOL</div>
<div class="t" style="left:149px;top:505.7px;">25 - 29 mm</div>
<div class="t" style="left:149px;top:518.2px;">24,5 - 29,5 mm</div>
<div class="t" style="left:149px;top:530.7px;">0,01 mm</div>
<div class="t" style="left:149px;top:544px;">-</div>
<div class="t" style="left:149px;top:556.5px;">1,9-2,2 N</div>
<div class="t" style="left:149px;top:569px;">230 g</div>

<!-- column 2 -->
<div class="s" style="left:357px;top:493px;">acceptable deviations</div>
<div class="s" style="left:357px;top:500.5px;">VDI/VDE/DGQ 2618 Bl. 12.1/13.1)</div>
<div class="t" style="left:357px;top:508.2px;">max. permissible</div>
<div class="t" style="left:357px;top:520.8px;">errors "G":</div>
<div class="t" style="left:357px;top:534px;">repeatability "r":</div>
<div class="t" style="left:357px;top:546px;">reference temperature:</div>
<div class="t" style="left:357px;top:559px;">operation temperature:</div>
<div class="t" style="left:357px;top:571.5px;">storage temperature:</div>
<div class="t" style="left:486px;top:521.2px;">0,02 mm</div>
<div class="t" style="left:486px;top:534px;">0,01 mm</div>
<div class="iso" style="left:491px;top:545.5px;">20° C</div>
<div class="iso" style="left:491px;top:558px;">10° C – 30° C</div>
<div class="iso" style="left:486px;top:570.5px;">–10° C – 50° C</div>

<!-- column 3 -->
<div class="t" style="left:695px;top:499px;">scale:</div>
<div class="t" style="left:695px;top:510.5px;">drawing-nr.:</div>
<div class="t" style="left:695px;top:523.5px;">date of issue:</div>
<div class="t" style="left:695px;top:536.4px;">name:</div>
<div class="t" style="left:695px;top:562px;">revision status:</div>
<div class="t" style="left:695px;top:574.4px;">revision date:</div>
<div class="t" style="left:807px;top:497px;">1:1</div>
<div class="t" style="left:807px;top:509.4px;">IDW-AE2100-DB_e</div>
<div class="t" style="left:807px;top:523px;">26.01.09</div>
<div class="t" style="left:807px;top:535px;">M.Heil</div>
<div class="t" style="left:807px;top:561px;">001</div>
<div class="t" style="left:807px;top:573px;">17.07.2012</div>

</div>
</body>
</html>
